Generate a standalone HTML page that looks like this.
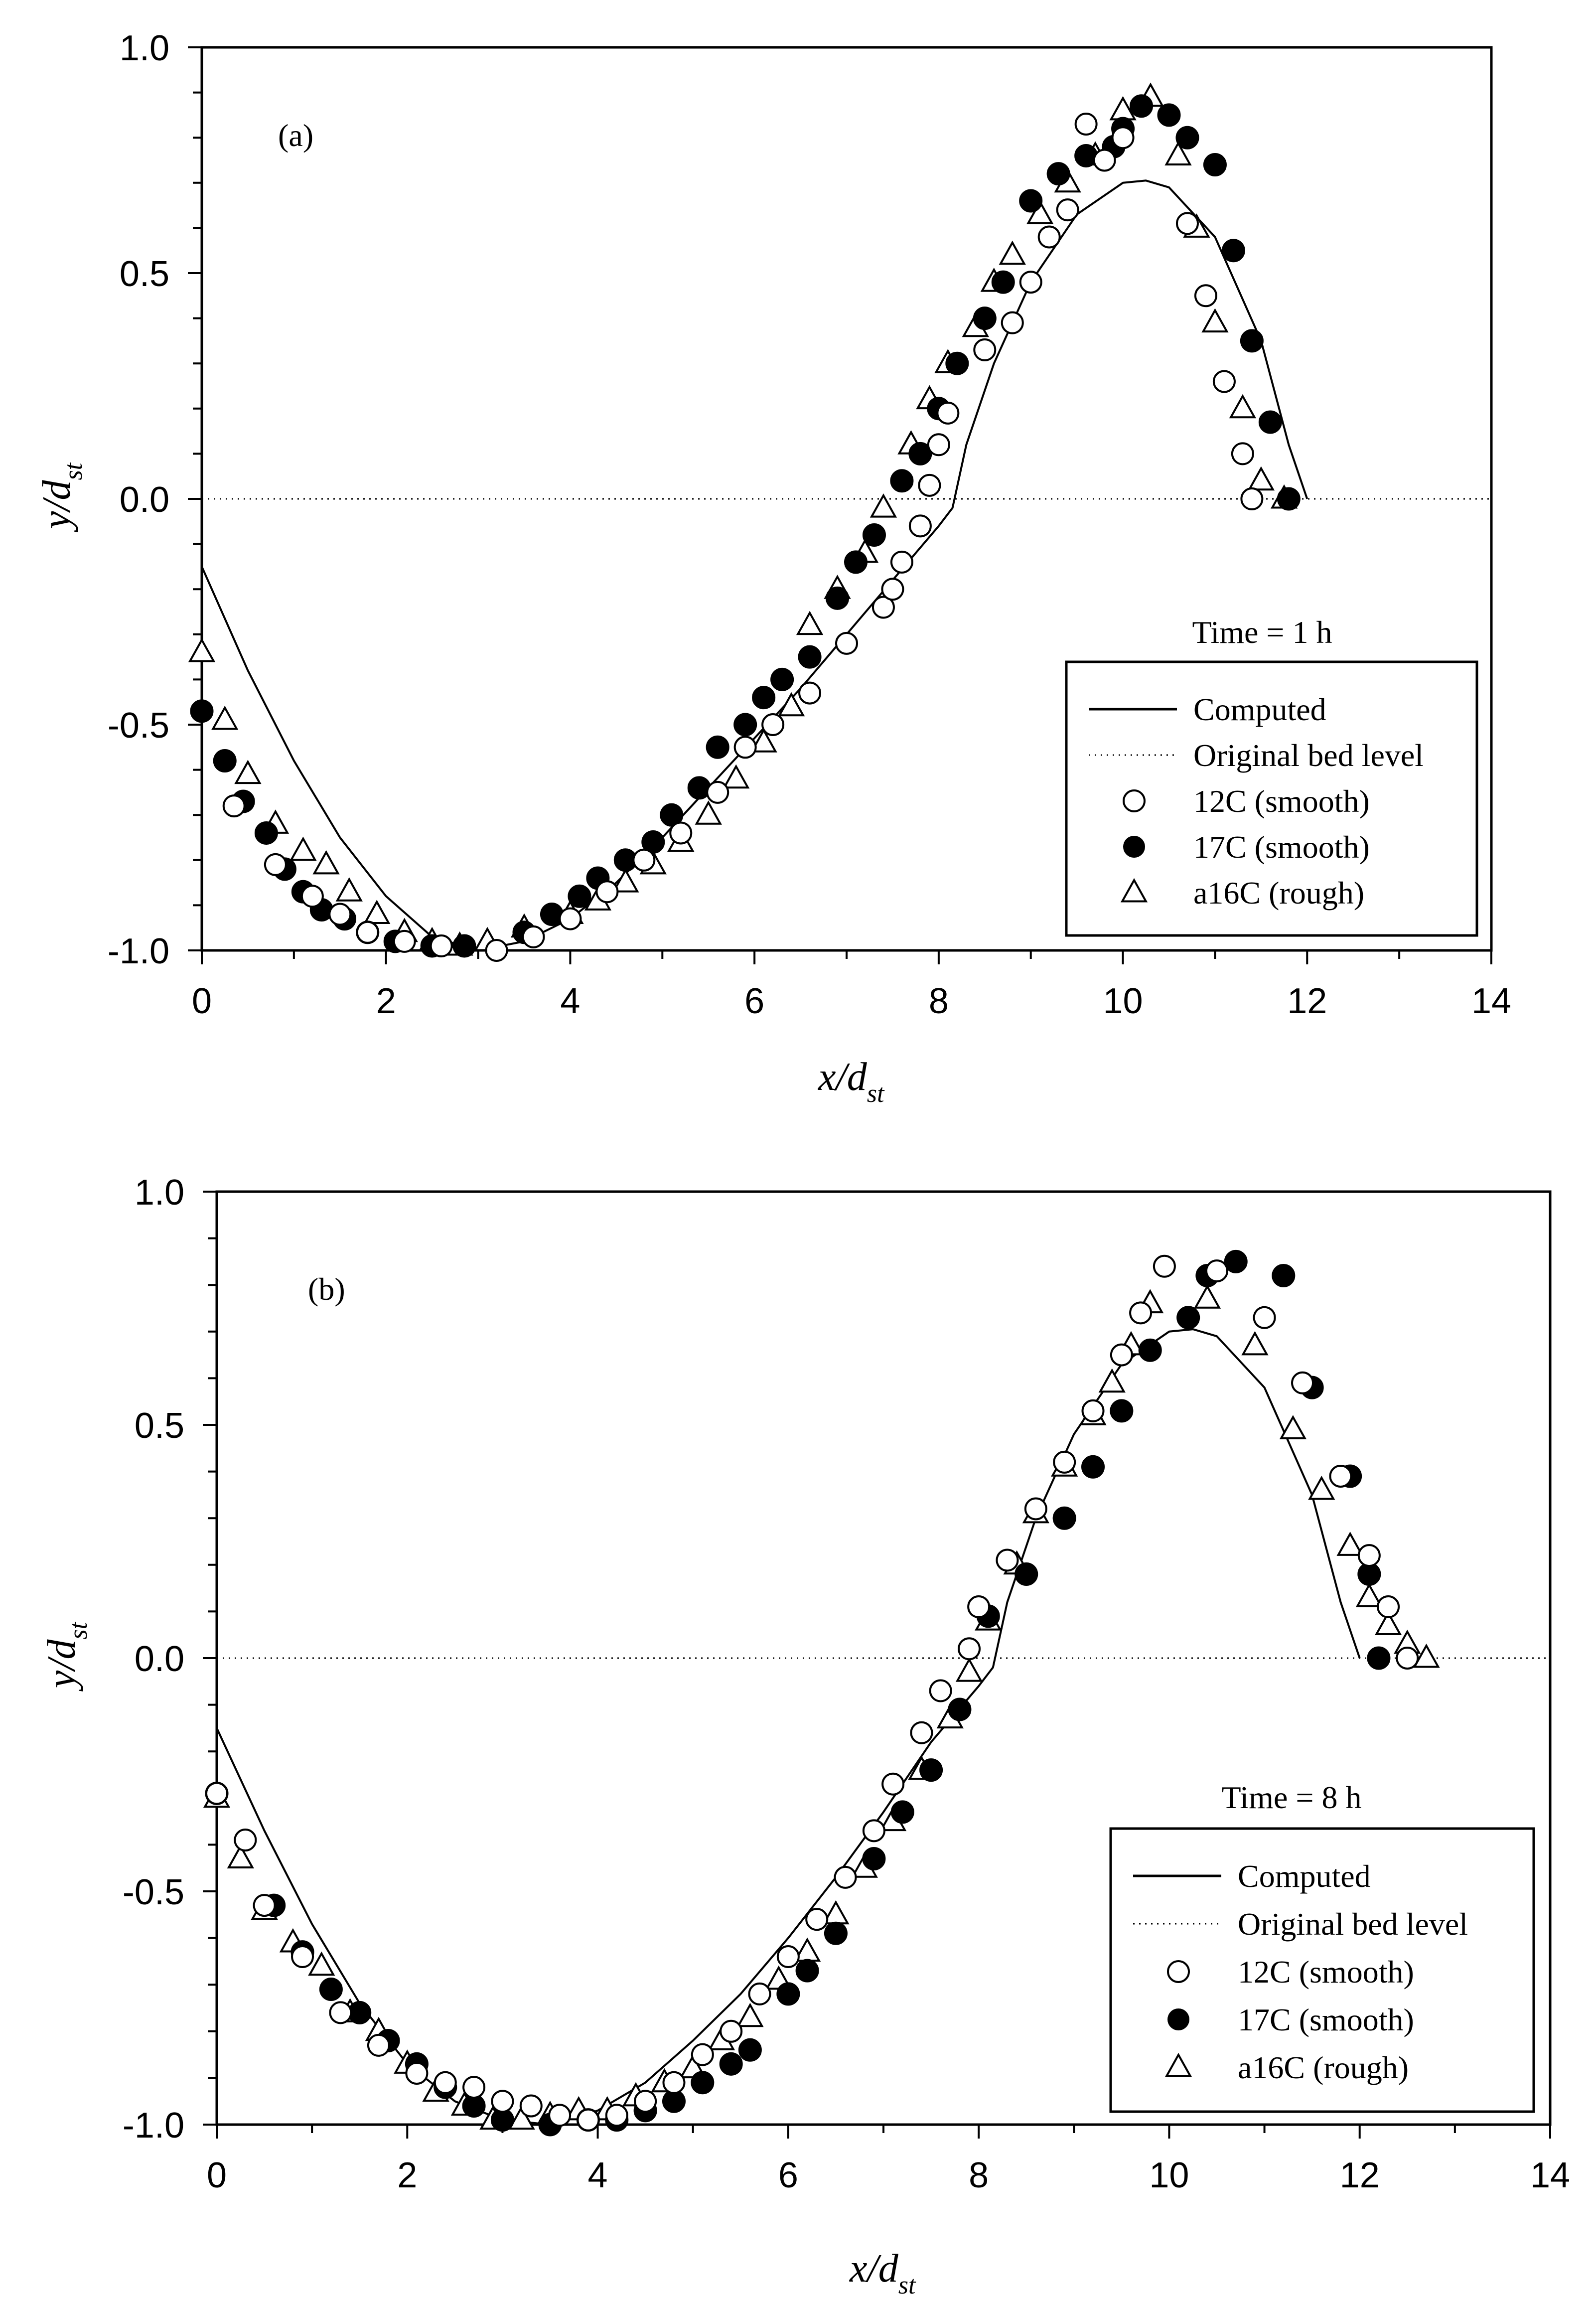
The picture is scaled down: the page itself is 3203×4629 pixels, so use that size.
<!DOCTYPE html>
<html><head><meta charset="utf-8"><style>
html,body{margin:0;padding:0;background:#fff;}
svg{display:block;}
</style></head><body>
<svg id="fig" xmlns="http://www.w3.org/2000/svg" width="3203" height="4629" viewBox="0 0 3203 4629"></svg>
<script>
// ---------- data ----------
const compX = [0,0.5,1,1.5,2,2.5,3,3.5,4,4.5,5,5.5,6,6.5,7,7.5,8,8.15,8.3,8.6,9,9.5,10,10.25,10.5,11,11.5,11.8,12];
const compAY = [-0.15,-0.38,-0.58,-0.75,-0.88,-0.97,-1.0,-0.98,-0.93,-0.85,-0.75,-0.64,-0.53,-0.42,-0.30,-0.18,-0.06,-0.02,0.12,0.30,0.48,0.63,0.70,0.705,0.69,0.58,0.35,0.12,0.0];
const compBY = [-0.15,-0.37,-0.57,-0.74,-0.87,-0.95,-0.99,-1.0,-0.97,-0.91,-0.82,-0.72,-0.60,-0.47,-0.33,-0.18,-0.06,-0.02,0.12,0.30,0.48,0.63,0.70,0.705,0.69,0.58,0.35,0.12,0.0];

const a12X = [0.35,0.8,1.2,1.5,1.8,2.2,2.6,3.2,3.6,4.0,4.4,4.8,5.2,5.6,5.9,6.2,6.6,7.0,7.4,7.5,7.6,7.8,7.9,8.0,8.1,8.5,8.8,9.0,9.2,9.4,9.6,9.8,10.0,10.7,10.9,11.1,11.3,11.4];
const a12Y = [-0.68,-0.81,-0.88,-0.92,-0.96,-0.98,-0.99,-1.0,-0.97,-0.93,-0.87,-0.80,-0.74,-0.65,-0.55,-0.50,-0.43,-0.32,-0.24,-0.20,-0.14,-0.06,0.03,0.12,0.19,0.33,0.39,0.48,0.58,0.64,0.83,0.75,0.80,0.61,0.45,0.26,0.10,0.0];
const a17X = [0,0.25,0.45,0.7,0.9,1.1,1.3,1.55,1.8,2.1,2.5,2.85,3.5,3.8,4.1,4.3,4.6,4.9,5.1,5.4,5.6,5.9,6.1,6.3,6.6,6.9,7.1,7.3,7.6,7.8,8.0,8.2,8.5,8.7,9.0,9.3,9.6,9.9,10.0,10.2,10.5,10.7,11.0,11.2,11.4,11.6,11.8];
const a17Y = [-0.47,-0.58,-0.67,-0.74,-0.82,-0.87,-0.91,-0.93,-0.96,-0.98,-0.99,-0.99,-0.96,-0.92,-0.88,-0.84,-0.80,-0.76,-0.70,-0.64,-0.55,-0.50,-0.44,-0.40,-0.35,-0.22,-0.14,-0.08,0.04,0.10,0.20,0.30,0.40,0.48,0.66,0.72,0.76,0.78,0.82,0.87,0.85,0.80,0.74,0.55,0.35,0.17,0.0];
const a16X = [0,0.25,0.5,0.8,1.1,1.35,1.6,1.9,2.2,2.5,2.8,3.1,3.5,4.0,4.3,4.6,4.9,5.2,5.5,5.8,6.1,6.4,6.6,6.9,7.2,7.4,7.7,7.9,8.1,8.4,8.6,8.8,9.1,9.4,9.7,10.0,10.3,10.6,10.8,11.0,11.3,11.5,11.75];
const a16Y = [-0.34,-0.49,-0.61,-0.72,-0.78,-0.81,-0.87,-0.92,-0.96,-0.98,-0.99,-0.98,-0.95,-0.92,-0.89,-0.85,-0.81,-0.76,-0.70,-0.62,-0.54,-0.46,-0.28,-0.20,-0.12,-0.02,0.12,0.22,0.30,0.38,0.48,0.54,0.63,0.70,0.76,0.86,0.89,0.76,0.60,0.39,0.20,0.04,0.0];

const b12X = [0,0.3,0.5,0.9,1.3,1.7,2.1,2.4,2.7,3.0,3.3,3.6,3.9,4.2,4.5,4.8,5.1,5.4,5.7,6.0,6.3,6.6,6.9,7.1,7.4,7.6,7.9,8.0,8.3,8.6,8.9,9.2,9.5,9.7,9.95,10.5,11.0,11.4,11.8,12.1,12.3,12.5];
const b12Y = [-0.29,-0.39,-0.53,-0.64,-0.76,-0.83,-0.89,-0.91,-0.92,-0.95,-0.96,-0.98,-0.99,-0.98,-0.95,-0.91,-0.85,-0.80,-0.72,-0.64,-0.56,-0.47,-0.37,-0.27,-0.16,-0.07,0.02,0.11,0.21,0.32,0.42,0.53,0.65,0.74,0.84,0.83,0.73,0.59,0.39,0.22,0.11,0.0];
const b17X = [0,0.6,0.9,1.2,1.5,1.8,2.1,2.4,2.7,3.0,3.5,3.9,4.2,4.5,4.8,5.1,5.4,5.6,6.0,6.2,6.5,6.9,7.2,7.5,7.8,8.1,8.5,8.9,9.2,9.5,9.8,10.2,10.4,10.7,11.2,11.5,11.9,12.1,12.2];
const b17Y = [-0.29,-0.53,-0.63,-0.71,-0.76,-0.82,-0.87,-0.92,-0.96,-0.99,-1.0,-0.99,-0.99,-0.97,-0.95,-0.91,-0.87,-0.84,-0.72,-0.67,-0.59,-0.43,-0.33,-0.24,-0.11,0.09,0.18,0.30,0.41,0.53,0.66,0.73,0.82,0.85,0.82,0.58,0.39,0.18,0.0];
const b16X = [0,0.25,0.5,0.8,1.1,1.4,1.7,2.0,2.3,2.6,2.9,3.2,3.5,3.8,4.1,4.4,4.7,5.0,5.3,5.6,5.9,6.2,6.5,6.8,7.1,7.4,7.7,7.9,8.1,8.4,8.6,8.9,9.2,9.4,9.6,9.8,10.4,10.9,11.3,11.6,11.9,12.1,12.3,12.5,12.7];
const b16Y = [-0.30,-0.43,-0.54,-0.61,-0.66,-0.76,-0.80,-0.87,-0.93,-0.96,-0.99,-0.99,-0.98,-0.97,-0.97,-0.94,-0.91,-0.88,-0.82,-0.77,-0.69,-0.63,-0.55,-0.45,-0.35,-0.24,-0.13,-0.03,0.08,0.20,0.31,0.41,0.52,0.59,0.67,0.76,0.77,0.67,0.49,0.36,0.24,0.13,0.07,0.03,0.0];

const xTicks = ["0","2","4","6","8","10","12","14"];
const yTicks = ["-1.0","-0.5","0.0","0.5","1.0"];
const legendLabels = ["Computed","Original bed level","12C (smooth)","17C (smooth)","a16C (rough)"];

// ---------- drawing ----------
const NS = "http://www.w3.org/2000/svg";
const svg = document.getElementById("fig");
function mk(tag, attrs, parent){
  const e = document.createElementNS(NS, tag);
  for (const k in attrs) e.setAttribute(k, attrs[k]);
  (parent||svg).appendChild(e);
  return e;
}

function panel(cfg){
  const g = mk("g", {});
  
  
  const sx = v => cfg.L + (v - 0) / 14 * (cfg.R - cfg.L);
  const sy = v => cfg.B - (v + 1) / 2 * (cfg.B - cfg.T);
  const fr = mk("rect", {x:cfg.L, y:cfg.T, width:cfg.R-cfg.L, height:cfg.B-cfg.T, fill:"none", stroke:"#000", "stroke-width":5}, g);
  
  
  for (let v = 0; v <= 14; v++) {
    const major = v % 2 === 0;
    const t = mk("line", {x1:sx(v), x2:sx(v), y1:cfg.B, y2:cfg.B + (major?28:17), stroke:"#000", "stroke-width":4}, g);
    
    
  }
  xTicks.forEach((lab) => {
    const t = mk("text", {x:sx(parseFloat(lab)), y:cfg.B + 126, "text-anchor":"middle", "font-family":"Liberation Sans, sans-serif", "font-size":72}, g);
    t.textContent = lab;
    
    
  });
  for (let i = 0; i <= 20; i++) {
    const v = -1 + i * 0.1;
    const major = i % 5 === 0;
    const t = mk("line", {x1:cfg.L - (major?28:18), x2:cfg.L, y1:sy(v), y2:sy(v), stroke:"#000", "stroke-width":4}, g);
    
    
  }
  yTicks.forEach((lab) => {
    const t = mk("text", {x:cfg.L - 65, y:sy(parseFloat(lab)) + 26, "text-anchor":"end", "font-family":"Liberation Sans, sans-serif", "font-size":72}, g);
    t.textContent = lab;
    
    
  });
  const z = mk("line", {x1:cfg.L, x2:cfg.R, y1:sy(0), y2:sy(0), stroke:"#000", "stroke-width":3, "stroke-dasharray":"3 9"}, g);
  
  
  const d = compX.map((x,i)=>(i?"L":"M")+sx(x).toFixed(1)+","+sy(cfg.compY[i]).toFixed(1)).join(" ");
  const c = mk("path", {d:d, fill:"none", stroke:"#000", "stroke-width":4, "stroke-linejoin":"round"}, g);
  
  
  function tri(x,y){ const r=25; return `M${x},${y-r} L${x+r*0.95},${y+r*0.7} L${x-r*0.95},${y+r*0.7} Z`; }
  cfg.s16X.forEach((x,i)=>{
    const m = mk("path", {d:tri(sx(x), sy(cfg.s16Y[i])), fill:"#fff", stroke:"#000", "stroke-width":4}, g);
    
    
  });
  cfg.s17X.forEach((x,i)=>{
    const m = mk("circle", {cx:sx(x), cy:sy(cfg.s17Y[i]), r:22, fill:"#000", stroke:"#000", "stroke-width":3}, g);
    
    
  });
  cfg.s12X.forEach((x,i)=>{
    const m = mk("circle", {cx:sx(x), cy:sy(cfg.s12Y[i]), r:21, fill:"#fff", stroke:"#000", "stroke-width":4}, g);
    
    
  });
  const pl = mk("text", {x:cfg.plx, y:cfg.ply, "font-family":"Liberation Serif, serif", "font-size":64}, g);
  pl.textContent = cfg.label;
  
  
  const tl = mk("text", {x:cfg.tx, y:cfg.ty, "text-anchor":"middle", "font-family":"Liberation Serif, serif", "font-size":64}, g);
  tl.textContent = cfg.time;
  
  
  const lg = mk("g", {}, g);
  
  
  mk("rect", {x:cfg.lx, y:cfg.ly, width:cfg.lw, height:cfg.lh, fill:"#fff", stroke:"#000", "stroke-width":5}, lg);
  legendLabels.forEach((lab,i)=>{
    const cy = cfg.ly + cfg.r0 + i*cfg.rs;
    const mx = cfg.lx + 136, x1 = cfg.lx + 45, x2 = cfg.lx + 222;
    let s;
    if (i===0) s = mk("line", {x1:x1,x2:x2,y1:cy,y2:cy,stroke:"#000","stroke-width":5}, lg);
    else if (i===1) s = mk("line", {x1:x1,x2:x2,y1:cy,y2:cy,stroke:"#000","stroke-width":3,"stroke-dasharray":"3 9"}, lg);
    else if (i===2) s = mk("circle", {cx:mx,cy:cy,r:21,fill:"#fff",stroke:"#000","stroke-width":4}, lg);
    else if (i===3) s = mk("circle", {cx:mx,cy:cy,r:22,fill:"#000"}, lg);
    else s = mk("path", {d:tri(mx,cy),fill:"#fff",stroke:"#000","stroke-width":4}, lg);
    
    
    const t = mk("text", {x:cfg.lx + 255, y:cy + 22, "font-family":"Liberation Serif, serif", "font-size":64}, lg);
    t.textContent = lab;
    
    
  });
  const xt = mk("text", {x:cfg.xtx, y:cfg.xty, "font-family":"Liberation Serif, serif", "font-size":80, "font-style":"italic"}, g);
  xt.innerHTML = 'x/d<tspan font-size="52" dy="24">st</tspan>';
  
  
  const yt = mk("text", {x:0, y:0, transform:`translate(${cfg.ytx},${cfg.yty}) rotate(-90)`, "text-anchor":"middle", "font-family":"Liberation Serif, serif", "font-size":80, "font-style":"italic"}, g);
  yt.innerHTML = 'y/d<tspan font-size="52" dy="24">st</tspan>';
  
  
}

panel({name:"panel-a", L:405, R:2993, T:95, B:1907, label:"(a)", plx:558, ply:293,
  time:"Time = 1 h", tx:2533, ty:1290,
  lx:2140, ly:1328, lw:824, lh:549, r0:95, rs:92,
  xtx:1642, xty:2187, ytx:140, yty:995, compY:compAY,
  s12X:a12X, s12Y:a12Y, s17X:a17X, s17Y:a17Y, s16X:a16X, s16Y:a16Y});
panel({name:"panel-b", L:435, R:3111, T:2391, B:4263, label:"(b)", plx:618, ply:2608,
  time:"Time = 8 h", tx:2592, ty:3628,
  lx:2229, ly:3669, lw:849, lh:568, r0:95, rs:96,
  xtx:1705, xty:4578, ytx:150, yty:3321, compY:compBY,
  s12X:b12X, s12Y:b12Y, s17X:b17X, s17Y:b17Y, s16X:b16X, s16Y:b16Y});
</script>
</body></html>
